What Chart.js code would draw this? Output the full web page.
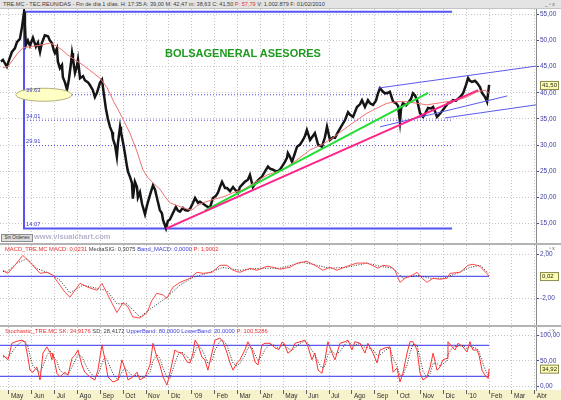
<!DOCTYPE html>
<html>
<head>
<meta charset="utf-8">
<script src="https://cdn.jsdelivr.net/npm/chart.js@4.4.1/dist/chart.umd.min.js"></script>
<style>
  body { margin: 0; background: #fff; }
  #wrap { position: relative; width: 561px; height: 400px; overflow: hidden; font-family: "Liberation Sans", Arial, sans-serif; }
  canvas { position: absolute; left: 0; }
  .abs { position: absolute; white-space: nowrap; }
  #head { top: 0; left: 0; width: 561px; height: 9px; background: #e4e4e4; border-bottom: 1px solid #c4c4c4; box-sizing: border-box; font-size: 5.6px; line-height: 8px; color: #3a3a3a; padding-left: 3px; }
  .sep { left: 0; width: 561px; height: 2px; background: #b4b4b4; }
  .lbl { left: 5px; font-size: 5.8px; line-height: 7px; }
  .red { color: #e83030; } .grey { color: #404040; } .blue { color: #3c3cd8; }
  .win { font-size: 5px; line-height: 6px; color: #555; left: 545px; }
  #xstrip { left: 0; top: 390px; width: 561px; height: 10px; background: #f6f2cc; }
</style>
</head>
<body>
<div id="wrap">
  <div id="xstrip" class="abs"></div>
  <div id="head" class="abs">TRE.MC - TEC.REUNIDAS - Fin de día 1 días. H: 17:35 A: 39,00 M: 42,47 m: 38,63 C: 41,50 <span class="red">P: 57,79</span> V: 1.002.879 F: 01/02/2010</div>
  <canvas id="main" width="561" height="235" style="top:9px"></canvas>
  <div class="abs sep" style="top:243px"></div>
  <canvas id="macd" width="561" height="80" style="top:245px"></canvas>
  <div class="abs sep" style="top:325px"></div>
  <canvas id="stoch" width="561" height="73" style="top:327px"></canvas>

  <div class="abs" style="left:165px; top:48px; font-size:11px; line-height:11px; font-weight:bold; color:#1e9a1e;">BOLSAGENERAL ASESORES</div>
  <div class="abs" style="left:1px; top:234px; width:30px; height:6px; border:1px solid #8c8c8c; background:#dedede; font-size:4.5px; line-height:6px; text-align:center; color:#333;">Sin Ordenes</div>
  <div class="abs" style="left:34px; top:233px; font-size:7.5px; line-height:8px; font-weight:bold; color:#b4b4cc;">www.visualchart.com</div>
  <div class="abs lbl" style="top:246px"><span class="red">MACD_TRE.MC MACD: 0,0231</span> <span class="grey">MediaSIG: 0,3075</span> <span class="blue">Band_MACD: 0,0000</span> <span class="red">P: 1,9002</span></div>
  <div class="abs lbl" style="top:328px"><span class="red">Stochastic_TRE.MC SK: 34,9176</span> <span class="grey">SD: 28,4172</span> <span class="blue">UpperBand: 80,0000</span> <span class="blue">LowerBand: 20,0000</span> <span class="red">P: 100,5286</span></div>
  <div class="abs win" style="top:1px">_ ▫ x</div>
  <div class="abs win" style="top:245px">_ ▫ x</div>
  <div class="abs win" style="top:327px">_ ▫ x</div>
</div>
<script>
// months from May 2008 (index 0) to Abr 2010
const months = ['May','Jun','Jul','Ago','Sep','Oct','Nov','Dic',"'09",'Feb','Mar','Abr','May','Jun','Jul','Ago','Sep','Oct','Nov','Dic',"'10",'Feb','Mar','Abr'];
const xMin = -0.39, xMax = 23.05;

// price path (time in months, price)
const priceT = [-0.35,-0.26,-0.17,-0.09,0,0.13,0.26,0.35,0.48,0.57,0.66,0.70,0.74,0.83,0.92,1.05,1.18,1.27,1.36,1.44,
  1.57,1.71,1.79,1.88,1.97,2.01,2.10,2.14,2.23,2.32,2.36,2.45,2.54,2.62,2.71,2.76,2.80,2.89,2.97,3.02,
  3.11,3.24,3.32,3.46,3.54,3.67,3.76,3.85,3.98,4.07,4.16,4.24,4.33,4.42,4.51,4.55,4.64,4.72,4.77,4.86,
  4.90,4.99,5.07,5.16,5.21,5.29,5.38,5.42,5.51,5.60,5.64,5.73,5.82,5.95,6.04,6.17,6.30,6.39,6.47,6.60,
  6.69,6.74,6.87,6.95,7.04,7.17,7.30,7.39,7.48,7.61,7.70,7.83,7.92,8.05,8.14,8.27,8.35,8.49,8.66,8.79,
  8.92,9.05,9.14,9.23,9.32,9.45,9.54,9.67,9.80,9.89,10.02,10.10,10.19,10.32,10.45,10.54,10.67,10.80,10.94,11.07,
  11.20,11.33,11.42,11.55,11.72,11.85,11.94,12.07,12.16,12.20,12.29,12.38,12.51,12.60,12.73,12.86,12.95,13.03,13.17,13.30,
  13.38,13.52,13.69,13.82,13.91,14.04,14.17,14.26,14.39,14.52,14.70,14.83,14.92,15.05,15.22,15.35,15.44,15.57,15.70,15.79,
  15.92,16.05,16.14,16.23,16.36,16.45,16.58,16.66,16.80,16.93,17.02,17.10,17.15,17.23,17.37,17.45,17.58,17.67,17.76,17.85,
  17.98,18.11,18.20,18.33,18.46,18.55,18.63,18.72,18.85,18.98,19.11,19.20,19.33,19.42,19.55,19.73,19.86,19.99,20.08,20.16,
  20.25,20.38,20.47,20.60,20.69,20.82,20.91,21.00];
const priceV = [46.0,46.3,45.6,45.0,46.2,47.8,48.5,49.7,50.3,52.5,55.4,53.0,49.1,50.0,49.0,50.5,48.8,49.6,47.8,49.5,
  51.0,50.8,50.0,49.5,48.0,47.6,48.5,46.0,44.7,45.3,43.0,42.0,40.6,42.5,45.5,47.6,46.5,43.8,45.0,46.3,
  42.8,43.2,42.4,42.0,41.5,40.5,39.2,40.0,41.9,42.5,39.5,37.0,35.0,33.5,32.5,31.2,30.0,27.8,30.5,33.5,
  32.5,30.5,28.5,26.0,24.9,24.0,22.8,19.8,23.0,22.0,20.0,21.0,18.8,16.8,18.5,20.5,22.3,21.5,20.0,17.6,
  17.0,15.7,14.1,15.5,15.8,17.0,18.2,17.5,17.3,18.0,17.6,17.5,17.8,19.0,19.9,19.0,19.2,18.8,18.3,18.0,
  19.9,20.3,20.9,22.0,23.0,21.8,21.8,21.2,22.0,21.5,20.9,22.0,22.4,23.0,23.4,24.3,22.0,22.8,23.5,24.0,
  25.0,25.9,25.5,25.3,24.9,25.3,25.9,26.8,27.6,28.5,27.8,26.8,28.5,29.7,30.1,31.0,31.8,32.9,31.0,31.8,
  32.3,30.1,29.7,31.5,33.5,31.0,31.5,31.4,32.5,33.5,34.8,36.3,35.8,35.4,37.3,37.8,38.6,37.3,38.6,38.0,
  37.7,38.5,39.9,40.9,40.2,39.9,40.0,40.2,38.3,38.0,37.5,34.5,37.0,38.0,37.6,38.0,38.8,39.9,39.5,38.6,
  36.1,35.4,36.0,37.1,37.0,37.3,36.5,35.4,36.0,36.7,37.5,38.0,38.2,38.6,38.5,39.2,39.9,41.5,42.8,42.3,
  42.1,42.3,41.9,41.1,40.0,39.2,38.3,41.5];

// moving average
const maT = [-0.26,-0.04,0.17,0.39,0.61,0.92,1.36,1.79,2.01,2.32,2.58,2.89,3.24,3.63,3.98,4.29,4.55,4.94,5.29,5.60,
  5.86,6.08,6.30,6.60,6.82,7.04,7.39,7.79,8.00,8.22,8.49,8.92,9.36,9.80,10.24,10.54,11.29,11.98,12.60,13.17,
  13.69,14.17,14.61,15.22,15.66,16.10,16.53,16.97,17.41,17.85,18.28,18.72,19.16,19.60,20.03,20.47,20.82,21.00];
const maV = [44.8,45.0,46.3,47.6,48.6,48.8,49.1,49.5,49.1,48.2,47.2,46.3,45.3,44.0,42.8,41.0,38.6,35.4,32.3,28.8,
  25.3,23.8,22.8,21.6,20.2,19.0,18.4,17.8,17.6,18.4,19.0,19.6,20.1,20.9,21.5,22.3,24.3,25.3,27.2,29.1,
  30.1,31.4,32.9,34.8,36.1,37.1,38.0,38.3,38.3,38.0,37.7,38.0,38.3,38.6,39.2,40.2,40.5,39.9];

// swing high / low box and retracement levels
const swingHigh = 55.47, swingLow = 14.07, swingT = 0.66, boxEndT = 19.38;
const fibLevels = [39.63, 34.77, 29.91];
const fibLabels = ['39.63', '34.01', '29.91'];

// drawn trend lines [t, price]
const pinkLine = [[6.87, 14.07], [20.52, 40.5]];
const greenLine = [[8.57, 17.5], [18.33, 40.0]];
const channelTop = [[16.14, 40.9], [23.05, 45.1]];
const channelMid = [[16.23, 33.5], [21.79, 39.4]];
const channelLow = [[19.07, 35.2], [23.05, 37.7]];

// MACD
const macdT = [-0.26,-0.04,0.26,0.61,0.92,1.36,1.66,1.92,2.14,2.45,2.67,3.11,3.46,3.85,4.07,4.29,4.51,4.72,4.99,5.21,
  5.42,5.73,6.04,6.25,6.47,6.74,6.91,7.17,7.48,7.92,8.22,8.49,8.88,9.23,9.54,9.80,10.10,10.54,10.85,11.29,
  11.55,11.85,12.29,12.60,13.03,13.38,13.73,14.04,14.35,14.78,15.22,15.66,15.88,16.14,16.36,16.66,16.88,17.10,17.32,17.63,
  17.85,18.07,18.28,18.55,18.85,19.16,19.29,19.73,20.08,20.29,20.60,21.00];
const macdV = [0.55,0.27,1.0,1.9,1.27,0.27,0.36,0.09,-0.55,-1.45,-1.9,-0.64,-1.0,-1.27,-0.64,-1.55,-2.45,-3.3,-2.4,-2.8,
  -3.7,-3.8,-3.3,-2.2,-1.55,-1.7,-2.0,-1.0,-0.55,-0.18,0.36,0.27,0.36,1.0,1.0,0.55,0.36,0.73,0.55,0.91,
  0.82,0.64,0.82,1.2,1.36,1.0,0.55,0.82,0.55,0.91,1.2,1.2,1.0,0.73,1.0,0.91,0.55,-0.55,-0.18,0.09,
  0.36,-0.18,-0.55,-0.18,-0.27,-0.18,0.27,0.36,1.0,1.09,0.91,0.02];
const sigT = [-0.26,-0.09,0.35,0.79,1.22,1.79,2.23,2.67,3.24,3.85,4.29,4.72,5.16,5.73,6.30,6.91,7.48,8.05,8.66,9.36,
  10.10,10.98,11.85,12.86,13.47,14.04,14.78,15.66,16.23,16.80,17.23,17.85,18.42,18.98,19.60,20.16,20.60,20.96];
const sigV = [0.45,0.36,1.2,1.6,0.7,0.27,-0.36,-1.5,-0.8,-1.1,-1.3,-2.5,-2.5,-3.7,-2.8,-1.9,-0.8,-0.1,0.27,0.8,
  0.55,0.73,0.73,1.27,1.0,0.73,0.82,1.2,0.91,0.73,-0.18,0.09,-0.18,-0.18,0.27,0.8,1.0,0.31];

// Stochastic
const stochT = [-0.26,-0.04,0.13,0.35,0.57,0.70,0.83,0.92,1.05,1.22,1.36,1.49,1.66,1.79,1.88,1.92,2.10,2.23,2.45,2.58,
  2.76,2.89,3.02,3.19,3.32,3.54,3.76,3.89,4.07,4.20,4.33,4.55,4.77,4.94,5.07,5.21,5.42,5.60,5.73,5.95,
  6.17,6.30,6.47,6.60,6.74,6.91,7.04,7.26,7.39,7.57,7.79,7.92,8.05,8.14,8.27,8.44,8.57,8.70,8.88,9.01,
  9.23,9.36,9.54,9.67,9.80,9.97,10.10,10.32,10.45,10.63,10.76,10.89,11.07,11.20,11.42,11.63,11.81,11.94,12.03,12.20,
  12.38,12.51,12.73,12.95,13.08,13.25,13.38,13.52,13.69,13.82,13.95,14.13,14.26,14.48,14.70,14.83,15.00,15.13,15.35,15.57,
  15.70,15.92,16.10,16.23,16.45,16.66,16.80,16.97,17.10,17.23,17.41,17.54,17.67,17.85,17.98,18.11,18.28,18.42,18.55,18.72,
  18.85,18.98,19.16,19.20,19.38,19.51,19.64,19.86,20.03,20.16,20.29,20.47,20.56,20.69,20.82,20.96,21.00];
const stochK = [61,52,84,88,90,87,57,32,28,38,13,65,77,67,52,65,26,19,28,22,
  55,61,71,42,28,19,13,32,81,52,19,9,13,52,36,13,19,28,13,19,
  42,84,57,42,19,3,26,71,67,65,48,46,65,90,81,57,52,32,65,90,
  94,87,65,46,32,46,52,71,87,71,48,42,81,84,84,75,72,86,84,65,
  71,84,87,90,77,52,65,32,26,52,87,65,52,84,87,90,71,87,84,65,
  84,65,46,71,75,77,28,36,9,26,65,87,87,71,26,13,19,38,65,32,
  38,52,55,87,77,71,84,77,67,87,71,71,61,32,22,16,35];
const stochD = [58,56,66,80,87,88,78,60,40,33,28,40,60,70,63,62,48,32,24,24,
  38,50,62,58,45,28,18,22,45,58,48,25,13,28,36,30,20,22,20,18,
  28,50,62,55,36,18,16,45,62,67,58,52,55,68,80,72,60,45,50,70,
  88,90,80,62,46,40,45,60,75,76,62,50,60,72,82,80,74,80,82,74,
  70,76,84,88,84,70,62,48,36,40,62,70,62,68,82,88,80,80,84,76,
  76,72,60,62,70,76,55,40,22,22,42,66,82,80,55,30,18,25,45,45,
  40,44,50,62,75,78,78,80,74,78,76,74,68,50,34,22,28];
const stochBands = [80, 20];

// axis ticks and last values
const priceTicks = [15, 20, 25, 30, 35, 40, 45, 50, 55];
const macdTicks = [2, -2];
const stochTicks = [100, 50, 0];
const lastPrice = 41.50, lastMacd = 0.02, lastStoch = 34.92;
const lastT = priceT[priceT.length - 1];

const family = '"Liberation Sans", Arial, sans-serif';
const fmt = v => v.toFixed(2).replace('.', ',');
const pts = (t, v) => t.map((x, i) => ({ x, y: v[i] }));
const seg = a => a.map(([x, y]) => ({ x, y }));

function line(data, color, width, dash, order) {
  return { data, borderColor: color, borderWidth: width, borderDash: dash || [], pointRadius: 0, fill: false, tension: 0, order: order || 0 };
}

function xAxis(labels) {
  return {
    type: 'linear', min: xMin, max: xMax,
    afterBuildTicks: s => { s.ticks = months.map((m, i) => ({ value: i })); },
    afterFit: s => { s.height = labels ? 10 : 0; s.paddingLeft = 0; s.paddingRight = 0; },
    grid: { color: '#c4c4c4', drawTicks: labels, tickLength: 4, tickColor: '#606060' },
    border: { display: false, dash: [1, 2] },
    ticks: { display: labels, autoSkip: false, maxRotation: 0, align: 'start', padding: -2, labelOffset: 2,
      font: { size: 6.5, family }, color: '#303030', callback: (v, i) => months[i] }
  };
}

function yAxis(min, max, ticks) {
  return {
    position: 'right', min, max,
    afterBuildTicks: s => { s.ticks = ticks.map(v => ({ value: v })); },
    afterFit: s => { s.width = 25; s.paddingTop = 0; s.paddingBottom = 0; },
    grid: { color: '#c4c4c4', drawTicks: true, tickLength: 3, tickColor: '#4848a8' },
    border: { display: true, color: '#8a8a8a', width: 1, dash: [1, 2] },
    ticks: { padding: 1, font: { size: 6.5, family }, color: '#3c3ca0', callback: v => fmt(v) }
  };
}

// yellow box with the last value on the right axis
const valueBox = {
  id: 'valueBox',
  afterDraw(chart, args, opts) {
    const { ctx, chartArea } = chart;
    const y = chart.scales.y.getPixelForValue(opts.value);
    const x = chartArea.right + 4;
    ctx.save();
    ctx.fillStyle = '#ffffb0';
    ctx.strokeStyle = '#8a8a50';
    ctx.lineWidth = 1;
    ctx.fillRect(x, y - 4, 18, 8);
    ctx.strokeRect(x + 0.5, y - 3.5, 18, 8);
    ctx.fillStyle = '#202020';
    ctx.font = '6px ' + family;
    ctx.textBaseline = 'middle';
    ctx.fillText(fmt(opts.value), x + 2, y + 0.5);
    ctx.restore();
  }
};

// ellipse and level labels on the price panel
const mainNotes = {
  id: 'mainNotes',
  afterDatasetsDraw(chart) {
    const { ctx, scales: { x, y } } = chart;
    ctx.save();
    ctx.beginPath();
    ctx.ellipse(x.getPixelForValue(1.53), y.getPixelForValue(fibLevels[0]), 28, 6.5, 0, 0, 2 * Math.PI);
    ctx.fillStyle = '#ffffc4';
    ctx.fill();
    ctx.strokeStyle = '#b0b078';
    ctx.lineWidth = 1;
    ctx.stroke();
    ctx.font = '5.8px ' + family;
    ctx.fillStyle = '#3a3ac8';
    ctx.textBaseline = 'bottom';
    const lx = x.getPixelForValue(swingT) + 2;
    const levels = [swingHigh, ...fibLevels, swingLow];
    const texts = [swingHigh.toFixed(2), ...fibLabels, swingLow.toFixed(2)];
    levels.forEach((v, i) => ctx.fillText(texts[i], lx, y.getPixelForValue(v) - (i === 0 ? 3 : 1)));
    ctx.restore();
  }
};

function baseOptions(showX, yMin, yMax, ticks, boxValue) {
  return {
    responsive: false, animation: false, events: [],
    layout: { padding: 0 },
    plugins: { legend: { display: false }, tooltip: { enabled: false }, valueBox: { value: boxValue } },
    scales: { x: xAxis(showX), y: yAxis(yMin, yMax, ticks) }
  };
}

const blue = '#5a5af0';

new Chart(document.getElementById('main'), {
  type: 'line',
  data: { datasets: [
    line(seg(pinkLine), '#ff2288', 2, null, 1),
    line(seg(greenLine), '#22dd33', 2, null, 1),
    line(seg(channelTop), blue, 1, null, 1),
    line(seg(channelMid), blue, 1, null, 1),
    line(seg(channelLow), blue, 1, null, 1),
    line(pts(maT, maV), '#f07070', 1, null, 2),
    line(pts(priceT, priceV), '#151515', 2.5, null, 3),
    ...fibLevels.map(v => line(seg([[swingT, v], [boxEndT, v]]), '#4848e0', 1, [1, 2], 5)),
    line(seg([[boxEndT, swingHigh], [swingT, swingHigh], [swingT, swingLow], [boxEndT, swingLow]]), '#5555f4', 2, null, 4)
  ] },
  options: baseOptions(false, 11.12, 56.01, priceTicks, lastPrice),
  plugins: [valueBox, mainNotes]
});

new Chart(document.getElementById('macd'), {
  type: 'line',
  data: { datasets: [
    line(pts(macdT, macdV), '#ff4a4a', 1, null, 1),
    line(pts(sigT, sigV), '#303030', 1, [1, 1.5], 2),
    line(seg([[xMin, 0], [lastT, 0]]), blue, 1.3, null, 3)
  ] },
  options: baseOptions(false, -4.43, 2.845, macdTicks, lastMacd),
  plugins: [valueBox]
});

new Chart(document.getElementById('stoch'), {
  type: 'line',
  data: { datasets: [
    line(pts(stochT, stochK), '#ff3030', 1, null, 1),
    line(pts(stochT, stochD), '#303030', 1, [1, 1.5], 2),
    ...stochBands.map(v => line(seg([[xMin, v], [lastT, v]]), blue, 1.3, null, 3))
  ] },
  options: baseOptions(true, -6.4, 115.5, stochTicks, lastStoch),
  plugins: [valueBox]
});
</script>
</body>
</html>
